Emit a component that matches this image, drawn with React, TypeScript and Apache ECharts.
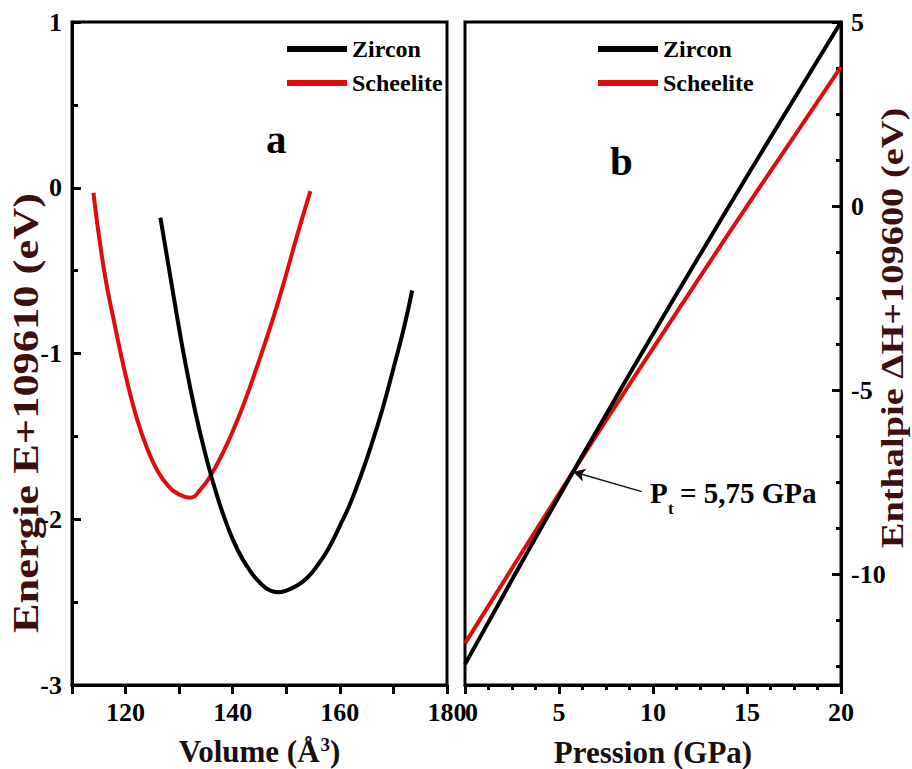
import React, { useEffect, useRef } from 'react';
import * as echarts from 'echarts';

// Panel a: total energy vs. cell volume
const volumeZircon = [126.5, 129, 131, 133, 135, 137, 139, 141, 143, 145, 147, 148.5, 150, 152, 154, 156, 158, 160, 162, 164, 166, 168, 170, 172, 173.5];
const energyZircon = [-0.18, -0.66, -1.03, -1.35, -1.62, -1.85, -2.04, -2.19, -2.3, -2.38, -2.43, -2.44, -2.43, -2.4, -2.35, -2.27, -2.17, -2.04, -1.9, -1.73, -1.54, -1.33, -1.09, -0.84, -0.62];
const volumeScheelite = [114, 116, 118, 120, 122, 124, 126, 128, 130, 132, 134, 136, 138, 140, 142, 144, 146, 148, 150, 152, 154.5];
const energyScheelite = [-0.03, -0.5, -0.83, -1.13, -1.38, -1.57, -1.71, -1.8, -1.85, -1.87, -1.82, -1.73, -1.61, -1.47, -1.31, -1.13, -0.94, -0.74, -0.52, -0.29, -0.02];

// Panel b: enthalpy vs. pressure
const pressure = [0, 2.5, 5, 7.5, 10, 12.5, 15, 17.5, 20];
const enthalpyZircon = [-12.44, -10.14, -7.88, -5.66, -3.47, -1.32, 0.81, 2.91, 5.0];
const enthalpyScheelite = [-11.87, -9.83, -7.81, -5.82, -3.86, -1.92, 0.0, 1.89, 3.78];

const seriesNames = ['Zircon', 'Scheelite'];
const enthalpyMajorTicks = [5, 0, -5, -10];
const enthalpyMinorTicks = [3.75, 2.5, 1.25, -1.25, -2.5, -3.75, -6.25, -7.5, -8.75, -11.25, -12.5];
const transitionPressure = 5.75;
const transitionEnthalpy = -7.21;

const FONT = '"Liberation Serif", "Times New Roman", serif';
const BLACK = '#000000';
const RED = '#e00c0c';
const TITLE_RED = '#3d0f0f';

const pairs = (xs: number[], ys: number[]) => xs.map((x, i) => [x, ys[i]]);

const axisLine = { show: true, onZero: false, lineStyle: { color: BLACK, width: 3 } };
const tickLabel = { color: BLACK, fontFamily: FONT, fontWeight: 'bold' as const, fontSize: 26 };
const bold = (size: number, color: string) => ({ color, fontFamily: FONT, fontWeight: 'bold' as const, fontSize: size });
const textStyle = (text: string, size: number, color: string) => ({
  text,
  fill: color,
  fontFamily: FONT,
  fontWeight: 'bold',
  fontSize: size,
  align: 'center',
  verticalAlign: 'middle',
  textAlign: 'center',
  textVerticalAlign: 'middle',
});

export default function App() {
  const ref = useRef<HTMLDivElement>(null);

  useEffect(() => {
    if (!ref.current) return;
    const chart = echarts.init(ref.current, undefined, { renderer: 'svg' });

    const lineSeries = (name: string, color: string, data: number[][], xi: number, yi: number, extra: any = {}) => ({
      name,
      type: 'line',
      xAxisIndex: xi,
      yAxisIndex: yi,
      data,
      smooth: true,
      showSymbol: false,
      symbol: 'none',
      lineStyle: { color, width: 4 },
      itemStyle: { color },
      z: color === RED ? 3 : 4,
      ...extra,
    });

    const legend = (left: number) => ({
      data: seriesNames,
      orient: 'vertical',
      left,
      top: 32,
      icon: 'rect',
      itemWidth: 60,
      itemHeight: 6,
      itemGap: 10,
      textStyle: bold(24, BLACK),
      selectedMode: false,
    });

    chart.setOption({
      animation: false,
      backgroundColor: '#ffffff',
      grid: [
        { left: 72, top: 22, width: 375, height: 663, show: true, borderColor: BLACK, borderWidth: 3, outerBoundsMode: 'none', containLabel: false },
        { left: 465, top: 22, width: 376, height: 663, show: true, borderColor: BLACK, borderWidth: 3, outerBoundsMode: 'none', containLabel: false },
      ],
      legend: [legend(282), legend(593)],
      xAxis: [
        {
          gridIndex: 0,
          type: 'value',
          min: 110,
          max: 180,
          interval: 10,
          axisLine,
          axisTick: { show: true, inside: false, length: 9, lineStyle: { color: BLACK, width: 3 } },
          splitLine: { show: false },
          axisLabel: { ...tickLabel, margin: 14, formatter: (v: number) => (v % 20 === 0 ? String(v) : '') },
          name: 'Volume (Å{sup|3})',
          nameLocation: 'middle',
          nameGap: 50,
          nameTextStyle: {
            ...bold(31, '#1a1010'),
            rich: { sup: { ...bold(19, '#1a1010'), verticalAlign: 'top', padding: [0, 0, 14, 1] } },
          },
        },
        {
          gridIndex: 1,
          type: 'value',
          min: 0,
          max: 20,
          interval: 5,
          axisLine,
          axisTick: { show: true, inside: false, length: 9, lineStyle: { color: BLACK, width: 3 } },
          minorTick: { show: true, splitNumber: 4, length: 5, lineStyle: { color: BLACK, width: 3 } },
          splitLine: { show: false },
          minorSplitLine: { show: false },
          axisLabel: { ...tickLabel, margin: 14, alignMinLabel: 'left' },
          name: 'Pression (GPa)',
          nameLocation: 'middle',
          nameGap: 52,
          nameTextStyle: bold(31, '#1a1010'),
        },
      ],
      yAxis: [
        {
          gridIndex: 0,
          type: 'value',
          position: 'left',
          min: -3,
          max: 1,
          interval: 1,
          axisLine,
          axisTick: { show: true, inside: true, length: 9, lineStyle: { color: BLACK, width: 3 } },
          minorTick: { show: true, splitNumber: 2, length: 6, lineStyle: { color: BLACK, width: 3 } },
          splitLine: { show: false },
          minorSplitLine: { show: false },
          axisLabel: { ...tickLabel, margin: 10 },
        },
        {
          gridIndex: 1,
          type: 'value',
          position: 'right',
          min: -13,
          max: 5,
          axisLine,
          axisTick: { show: true, inside: true, length: 9, customValues: enthalpyMajorTicks, lineStyle: { color: BLACK, width: 3 } },
          splitLine: { show: false },
          axisLabel: { ...tickLabel, margin: 10, customValues: enthalpyMajorTicks },
        },
        {
          // minor ticks of the enthalpy axis, drawn at the right edge and pointing inwards
          gridIndex: 1,
          type: 'value',
          position: 'left',
          offset: -376,
          min: -13,
          max: 5,
          axisLine: { show: false },
          axisTick: { show: true, inside: false, length: 5, customValues: enthalpyMinorTicks, lineStyle: { color: BLACK, width: 3 } },
          splitLine: { show: false },
          axisLabel: { show: false },
        },
      ],
      series: [
        lineSeries('Zircon', BLACK, pairs(volumeZircon, energyZircon), 0, 0),
        lineSeries('Scheelite', RED, pairs(volumeScheelite, energyScheelite), 0, 0),
        lineSeries('Zircon', BLACK, pairs(pressure, enthalpyZircon), 1, 1),
        lineSeries('Scheelite', RED, pairs(pressure, enthalpyScheelite), 1, 1, {
          markLine: {
            silent: true,
            symbol: ['none', 'arrow'],
            symbolSize: [10, 12],
            label: { show: false },
            lineStyle: { color: '#111111', width: 1.5, type: 'solid' },
            data: [[{ coord: [9.4, -7.75] }, { coord: [transitionPressure, transitionEnthalpy] }]],
          },
        }),
      ],
      graphic: [
        { type: 'text', x: 26, y: 413, rotation: Math.PI / 2, scaleX: 1.27, style: textStyle('Energie E+109610 (eV)', 35, TITLE_RED) },
        { type: 'text', x: 893, y: 328, rotation: Math.PI / 2, scaleX: 1.2, style: textStyle('Enthalpie ΔH+109600 (eV)', 32, TITLE_RED) },
        { type: 'text', left: 266, top: 118, style: { text: 'a', ...bold(41, BLACK), fill: BLACK } },
        { type: 'text', left: 610, top: 140, style: { text: 'b', ...bold(41, BLACK), fill: BLACK } },
        { type: 'text', left: 650, top: 478, style: { text: 'P', ...bold(29, BLACK), fill: BLACK } },
        { type: 'text', left: 668, top: 500, style: { text: 't', ...bold(17, BLACK), fill: BLACK } },
        { type: 'text', left: 680, top: 478, style: { text: '= 5,75 GPa', ...bold(29, BLACK), fill: BLACK } },
      ],
    });

    return () => chart.dispose();
  }, []);

  return <div ref={ref} style={{ position: 'absolute', left: 0, top: 0, width: 912, height: 769 }} />;
}
